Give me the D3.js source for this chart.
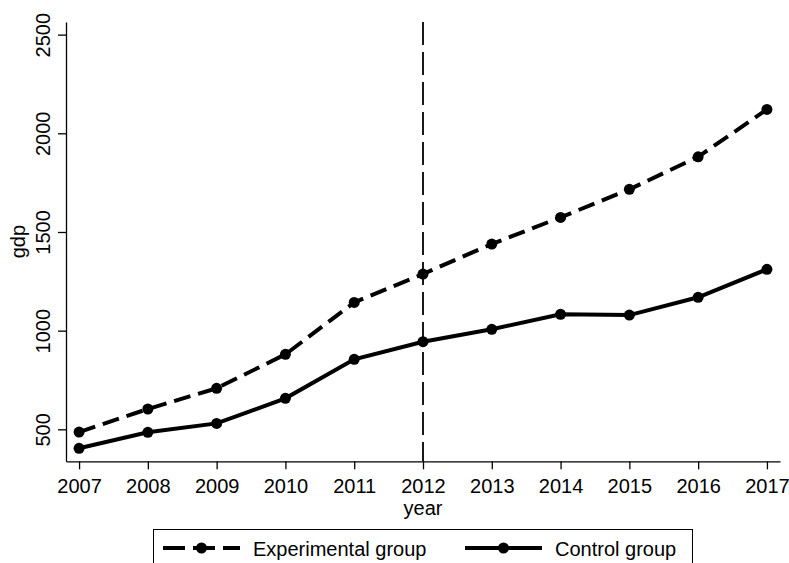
<!DOCTYPE html>
<html>
<head>
<meta charset="utf-8">
<script src="https://cdn.jsdelivr.net/npm/d3@7"></script>
<style>
  body { margin: 0; background: #fff; }
  svg { display: block; font-family: "Liberation Sans", Arial, sans-serif; }
</style>
</head>
<body>
<svg id="chart" width="789" height="563"></svg>
<script>
let years = [2007, 2008, 2009, 2010, 2011, 2012, 2013, 2014, 2015, 2016, 2017];
let experimental = [486, 603, 708, 880, 1143, 1287, 1439, 1574, 1716, 1881, 2121];
let control = [404, 485, 530, 657, 855, 944, 1007, 1083, 1079, 1169, 1311];
let yTicks = [500, 1000, 1500, 2000, 2500];
let treatYear = 2012;
let seriesNames = ['Experimental group', 'Control group'];

let svg = d3.select('#chart');
let fontSize = 20;

let xScale = d3.scaleLinear()
    .domain([2006.81, 2017.19])
    .range([66, 780]);

let yScale = d3.scaleLinear()
    .domain([338, 2564])
    .range([461.3, 22]);

// axes
let xAxis = d3.axisBottom(xScale)
    .tickValues(years)
    .tickFormat(d3.format('d'))
    .tickSize(8)
    .tickSizeOuter(0);
let xg = svg.append('g')
    .attr('transform', 'translate(0,' + yScale.range()[0] + ')')
    .call(xAxis);
xg.selectAll('text')
    .attr('font-size', fontSize)
    .attr('font-family', '"Liberation Sans", Arial, sans-serif')
    .attr('fill', '#000')
    .attr('dy', null)
    .attr('y', 31.5);

let yAxis = d3.axisLeft(yScale)
    .tickValues(yTicks)
    .tickFormat(d3.format('d'))
    .tickSize(8)
    .tickSizeOuter(0);
let yg = svg.append('g')
    .attr('transform', 'translate(' + xScale.range()[0] + ',0)')
    .call(yAxis);
yg.selectAll('text')
    .attr('font-size', fontSize)
    .attr('font-family', '"Liberation Sans", Arial, sans-serif')
    .attr('fill', '#000')
    .attr('text-anchor', 'middle')
    .attr('dy', null)
    .attr('x', 0)
    .attr('y', 0)
    .attr('transform', 'translate(-16,0) rotate(-90)');

svg.selectAll('.domain, .tick line')
    .attr('stroke', '#000')
    .attr('stroke-width', 1.3);

// axis titles
svg.append('text')
    .attr('x', (xScale.range()[0] + xScale.range()[1]) / 2)
    .attr('y', 515)
    .attr('text-anchor', 'middle')
    .attr('font-size', fontSize)
    .text('year');

svg.append('text')
    .attr('transform', 'translate(25,' + ((yScale.range()[0] + yScale.range()[1]) / 2) + ') rotate(-90)')
    .attr('text-anchor', 'middle')
    .attr('font-size', fontSize)
    .text('gdp');

// vertical reference line at treatment year
svg.append('line')
    .attr('x1', xScale(treatYear))
    .attr('x2', xScale(treatYear))
    .attr('y1', yScale.range()[1])
    .attr('y2', yScale.range()[0])
    .attr('stroke', '#000')
    .attr('stroke-width', 1.8)
    .attr('stroke-dasharray', '23,7');

let line = d3.line()
    .x(d => xScale(d.year))
    .y(d => yScale(d.value));

let series = [
    {name: seriesNames[0], values: experimental, dash: '17,8'},
    {name: seriesNames[1], values: control, dash: null}
];

series.forEach(function (s) {
    let pts = years.map((y, i) => ({year: y, value: s.values[i]}));
    svg.append('path')
        .datum(pts)
        .attr('fill', 'none')
        .attr('stroke', '#000')
        .attr('stroke-width', 4)
        .attr('stroke-dasharray', s.dash)
        .attr('d', line);
    svg.selectAll(null)
        .data(pts)
        .enter().append('circle')
        .attr('cx', d => xScale(d.year))
        .attr('cy', d => yScale(d.value))
        .attr('r', 5.5)
        .attr('fill', '#000');
});

// legend
let legend = svg.append('g');
legend.append('rect')
    .attr('x', 153.5)
    .attr('y', 529.5)
    .attr('width', 539)
    .attr('height', 60)
    .attr('fill', '#fff')
    .attr('stroke', '#000')
    .attr('stroke-width', 1);

let legendItems = [
    {x1: 163, x2: 240, text: 253, dash: '22,8'},
    {x1: 465, x2: 542, text: 555, dash: null}
];
legendItems.forEach(function (item, i) {
    legend.append('line')
        .attr('x1', item.x1)
        .attr('x2', item.x2)
        .attr('y1', 548)
        .attr('y2', 548)
        .attr('stroke', '#000')
        .attr('stroke-width', 4)
        .attr('stroke-dasharray', item.dash);
    legend.append('circle')
        .attr('cx', (item.x1 + item.x2) / 2)
        .attr('cy', 548)
        .attr('r', 5.5)
        .attr('fill', '#000');
    legend.append('text')
        .attr('x', item.text)
        .attr('y', 555.5)
        .attr('font-size', fontSize)
        .text(seriesNames[i]);
});
</script>
</body>
</html>
